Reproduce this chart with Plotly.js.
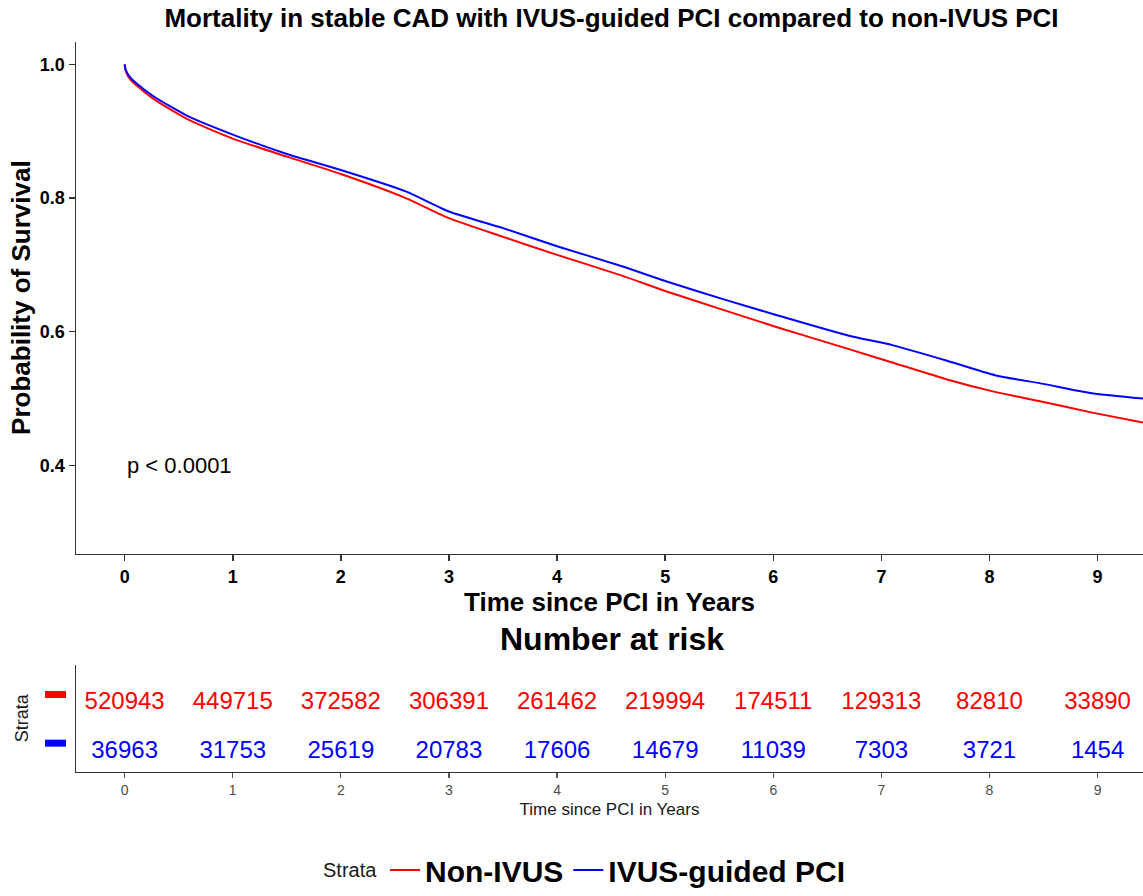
<!DOCTYPE html>
<html>
<head>
<meta charset="utf-8">
<script src="https://cdn.plot.ly/plotly-3.0.1.min.js"></script>
<style>html,body{margin:0;padding:0;background:#fff;}#chart{width:1143px;height:896px;}</style>
</head>
<body>
<div id="chart"></div>
<script>
// ---- data ----
const timeYears      = [0, 0.01, 0.05, 0.1, 0.27, 0.58, 1.0, 1.5, 2.0, 2.6, 3.0, 3.5, 4.0, 4.6, 5.0, 5.55, 6.05, 6.7, 7.1, 7.6, 8.05, 8.5, 8.95, 9.42];
const survNonIvus    = [1.0, 0.99, 0.978, 0.970, 0.948, 0.918, 0.889, 0.862, 0.836, 0.800, 0.770, 0.742, 0.715, 0.684, 0.661, 0.632, 0.606, 0.574, 0.554, 0.529, 0.510, 0.495, 0.479, 0.464];
const survIvus       = [1.0, 0.992, 0.981, 0.973, 0.952, 0.923, 0.895, 0.866, 0.842, 0.810, 0.780, 0.755, 0.728, 0.698, 0.676, 0.648, 0.624, 0.594, 0.580, 0.557, 0.535, 0.522, 0.508, 0.500];
const riskTimes      = [0, 1, 2, 3, 4, 5, 6, 7, 8, 9];
const riskNonIvus    = [520943, 449715, 372582, 306391, 261462, 219994, 174511, 129313, 82810, 33890];
const riskIvus       = [36963, 31753, 25619, 20783, 17606, 14679, 11039, 7303, 3721, 1454];
const strataNames    = ['Non-IVUS', 'IVUS-guided PCI'];
const strataColors   = ['#FF0000', '#0000FF'];
const yTicks         = [0.4, 0.6, 0.8, 1.0];
const yTickText      = ['0.4', '0.6', '0.8', '1.0'];

const FONT = 'Liberation Sans, Arial, sans-serif';
const H = 896;
const px = v => (H - v) / H;   // pixel row -> paper fraction
const xDomain = [76 / 1143, 1];
const xRange = [-0.45, 9.42];

const traces = [
  {x: timeYears, y: survNonIvus, type: 'scatter', mode: 'lines', name: strataNames[0],
   line: {color: strataColors[0], width: 2, shape: 'spline', smoothing: 0.6}, xaxis: 'x', yaxis: 'y'},
  {x: timeYears, y: survIvus, type: 'scatter', mode: 'lines', name: strataNames[1],
   line: {color: strataColors[1], width: 2, shape: 'spline', smoothing: 0.6}, xaxis: 'x', yaxis: 'y'},
  {x: riskTimes, y: riskTimes.map(() => 2), text: riskNonIvus.map(String), type: 'scatter', mode: 'text',
   textfont: {family: FONT, size: 24, color: strataColors[0]}, showlegend: false, hoverinfo: 'skip',
   xaxis: 'x2', yaxis: 'y2'},
  {x: riskTimes, y: riskTimes.map(() => 1), text: riskIvus.map(String), type: 'scatter', mode: 'text',
   textfont: {family: FONT, size: 24, color: strataColors[1]}, showlegend: false, hoverinfo: 'skip',
   xaxis: 'x2', yaxis: 'y2'}
];

const layout = {
  width: 1143, height: 896,
  margin: {l: 0, r: 0, t: 0, b: 0},
  paper_bgcolor: '#fff', plot_bgcolor: '#fff',
  font: {family: FONT, color: '#000'},
  title: {text: '<b>Mortality in stable CAD with IVUS-guided PCI compared to non-IVUS PCI</b>',
          font: {family: FONT, size: 26, color: '#000'}, x: 0.535, xanchor: 'center', y: px(18), yanchor: 'middle'},
  xaxis: {domain: xDomain, range: xRange, tickvals: riskTimes, ticks: 'outside', ticklen: 6, tickwidth: 1.5,
          tickcolor: '#333', showline: true, linecolor: '#333', linewidth: 1.5, showgrid: false, zeroline: false,
          tickfont: {family: FONT, size: 18, color: '#000', weight: 'bold'},
          title: {text: '<b>Time since PCI in Years</b>', font: {family: FONT, size: 26, color: '#000'}, standoff: 3},
          anchor: 'y', automargin: false},
  yaxis: {domain: [px(558), px(42)], range: [0.268, 1.034], tickvals: yTicks, ticktext: yTickText,
          ticks: 'outside', ticklen: 6, tickwidth: 1.5, tickcolor: '#333', showline: true, linecolor: '#333',
          linewidth: 1.5, showgrid: false, zeroline: false,
          tickfont: {family: FONT, size: 18, color: '#000', weight: 'bold'},
          title: {text: '<b>Probability of Survival</b>', font: {family: FONT, size: 26, color: '#000'}, standoff: 2},
          anchor: 'x', automargin: false},
  xaxis2: {domain: xDomain, range: xRange, tickvals: riskTimes, ticks: 'outside', ticklen: 5, tickwidth: 1.2,
           tickcolor: '#555', showline: true, linecolor: '#333', linewidth: 1.5, showgrid: false, zeroline: false,
           tickfont: {family: FONT, size: 14, color: '#4d4d4d'},
           title: {text: 'Time since PCI in Years', font: {family: FONT, size: 17, color: '#1a1a1a'}, standoff: 6},
           anchor: 'y2', automargin: false},
  yaxis2: {domain: [px(778), px(670)], range: [0.592, 2.796], showticklabels: false, ticks: '',
           showline: true, linecolor: '#333', linewidth: 1.5, showgrid: false, zeroline: false,
           anchor: 'x2', automargin: false},
  showlegend: true,
  legend: {orientation: 'h', x: 385 / 1143, xanchor: 'left', y: px(877), yanchor: 'middle',
           font: {family: FONT, size: 30, color: '#000', weight: 'bold'},
           itemwidth: 30, tracegroupgap: 0, bgcolor: 'rgba(0,0,0,0)'},
  annotations: [
    {text: 'p < 0.0001', xref: 'x', yref: 'y', x: 0, y: 0.4, xanchor: 'left', yanchor: 'middle',
     showarrow: false, font: {family: FONT, size: 22, color: '#000'}},
    {text: '<b>Number at risk</b>', xref: 'paper', yref: 'paper', x: 0.535, y: px(644), xanchor: 'center',
     yanchor: 'middle', showarrow: false, font: {family: FONT, size: 32, color: '#000'}},
    {text: 'Strata', xref: 'paper', yref: 'paper', x: 22 / 1143, y: px(724), xanchor: 'center', yanchor: 'middle',
     textangle: -90, showarrow: false, font: {family: FONT, size: 18, color: '#1a1a1a'}},
    {text: 'Strata', xref: 'paper', yref: 'paper', x: 379 / 1143, y: px(877), xanchor: 'right', yanchor: 'middle',
     showarrow: false, font: {family: FONT, size: 20, color: '#1a1a1a'}}
  ],
  shapes: [
    {type: 'line', xref: 'paper', yref: 'paper', x0: 45 / 1143, x1: 66 / 1143, y0: px(700), y1: px(700),
     line: {color: strataColors[0], width: 7}},
    {type: 'line', xref: 'paper', yref: 'paper', x0: 45 / 1143, x1: 66 / 1143, y0: px(749), y1: px(749),
     line: {color: strataColors[1], width: 7}}
  ]
};

Plotly.newPlot('chart', traces, layout, {displayModeBar: false, staticPlot: true});
</script>
</body>
</html>
